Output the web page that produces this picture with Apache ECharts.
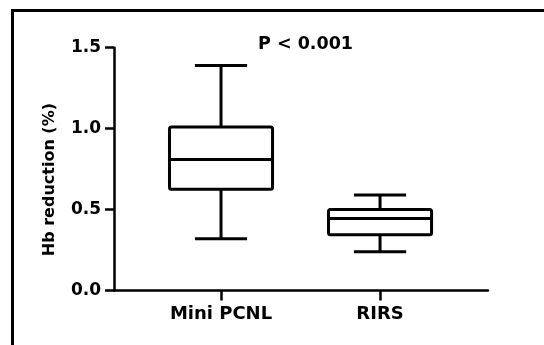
<!DOCTYPE html>
<html>
<head>
<meta charset="utf-8">
<script src="https://cdn.jsdelivr.net/npm/echarts@6/dist/echarts.min.js"></script>
<style>
  html, body { margin: 0; padding: 0; background: #fff; }
  #chart { width: 544px; height: 345px; }
</style>
</head>
<body>
<div id="chart"></div>
<script>
// groups on the x axis
const categories = ['Mini PCNL', 'RIRS'];
// box stats: [min, q1, median, q3, max]
const miniPcnl = [0.32, 0.625, 0.81, 1.01, 1.39];
const rirs = [0.24, 0.345, 0.445, 0.50, 0.59];
const yTicks = [0, 0.5, 1.0, 1.5];
const pText = 'P < 0.001';

const boxData = [miniPcnl, rirs].map((s, i) => [i + 1].concat(s));
const font = '"DejaVu Sans", Arial, sans-serif';

function renderBox(params, api) {
  const x = api.value(0);
  const unit = api.size([1, 0])[0];
  const half = unit * 0.324;
  const cap = unit * 0.164;
  const low = api.coord([x, api.value(1)]);
  const q1 = api.coord([x, api.value(2)]);
  const med = api.coord([x, api.value(3)]);
  const q3 = api.coord([x, api.value(4)]);
  const high = api.coord([x, api.value(5)]);
  const style = { stroke: '#000', lineWidth: 3, fill: null, lineJoin: 'round' };
  return {
    type: 'group',
    children: [
      { type: 'line', shape: { x1: q3[0], y1: q3[1], x2: high[0], y2: high[1] }, style },
      { type: 'line', shape: { x1: low[0], y1: low[1], x2: q1[0], y2: q1[1] }, style },
      { type: 'line', shape: { x1: high[0] - cap, y1: high[1], x2: high[0] + cap, y2: high[1] }, style },
      { type: 'line', shape: { x1: low[0] - cap, y1: low[1], x2: low[0] + cap, y2: low[1] }, style },
      { type: 'rect', shape: { x: q3[0] - half, y: q3[1], width: half * 2, height: q1[1] - q3[1], r: 2 },
        style: { stroke: '#000', lineWidth: 3, fill: '#fff', lineJoin: 'round' } },
      { type: 'line', shape: { x1: med[0] - half, y1: med[1], x2: med[0] + half, y2: med[1] }, style }
    ]
  };
}

const chart = echarts.init(document.getElementById('chart'));
chart.setOption({
  animation: false,
  backgroundColor: '#fff',
  title: {
    text: pText,
    left: 258,
    top: 35,
    padding: 0,
    textStyle: { fontFamily: font, fontWeight: 'bold', fontSize: 17.5, color: '#000' }
  },
  graphic: [
    {
      type: 'rect',
      shape: { x: 12.5, y: 10.5, width: 600, height: 400 },
      style: { stroke: '#000', lineWidth: 3, fill: null },
      z: 10
    }
  ],
  grid: { left: 114, right: 56, top: 47.7, bottom: 54.5 },
  xAxis: {
    type: 'value',
    min: 0.327,
    max: 2.679,
    splitLine: { show: false },
    axisLine: { show: true, lineStyle: { color: '#000', width: 2.5 } },
    axisTick: {
      show: true,
      customValues: [1, 2],
      length: 10,
      lineStyle: { color: '#000', width: 2.5 }
    },
    axisLabel: {
      customValues: [1, 2],
      formatter: v => categories[Math.round(v) - 1],
      margin: 15,
      fontFamily: font,
      fontWeight: 'bold',
      fontSize: 18,
      color: '#000'
    }
  },
  yAxis: {
    type: 'value',
    min: yTicks[0],
    max: yTicks[yTicks.length - 1],
    interval: 0.5,
    name: 'Hb reduction (%)',
    nameLocation: 'middle',
    nameGap: 56,
    nameTextStyle: {
      fontFamily: font,
      fontWeight: 'bold',
      fontSize: 16,
      color: '#000',
      padding: [0, 21, 0, 0]
    },
    splitLine: { show: false },
    axisLine: { show: true, lineStyle: { color: '#000', width: 2.5 } },
    axisTick: { show: true, length: 9, lineStyle: { color: '#000', width: 2.5 } },
    axisLabel: {
      formatter: v => v.toFixed(1),
      margin: 13,
      fontFamily: font,
      fontWeight: 'bold',
      fontSize: 17,
      color: '#000'
    }
  },
  series: [
    {
      type: 'custom',
      renderItem: renderBox,
      encode: { x: 0, y: [1, 2, 3, 4, 5] },
      data: boxData
    }
  ]
});
</script>
</body>
</html>
